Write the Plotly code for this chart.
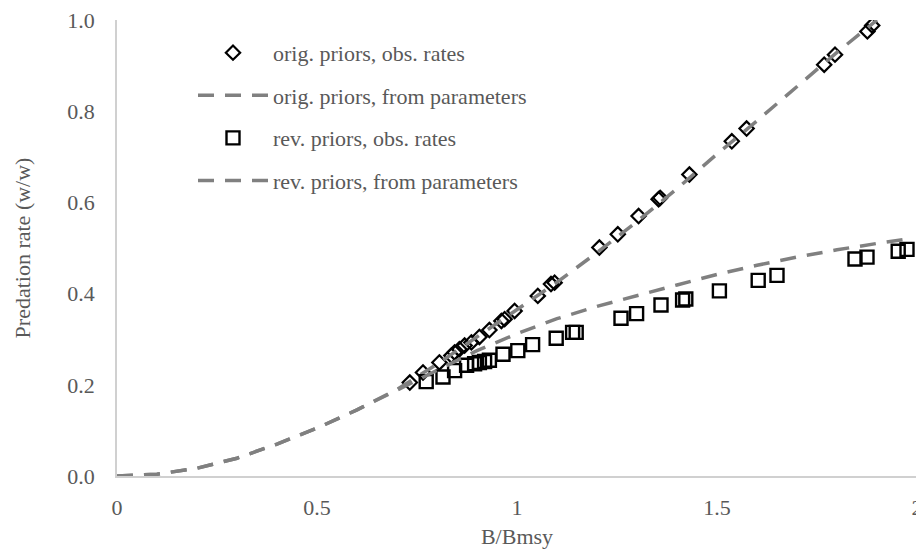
import plotly.graph_objects as go

# Observed rates, original priors
orig_obs_x = [0.732, 0.765, 0.806, 0.836, 0.844, 0.856, 0.869, 0.886, 0.906, 0.931, 0.961, 0.969, 0.994,
              1.052, 1.085, 1.094, 1.206, 1.252, 1.304, 1.354, 1.358, 1.431, 1.537, 1.574, 1.768, 1.795,
              1.876, 1.888]
orig_obs_y = [0.205, 0.227, 0.249, 0.264, 0.271, 0.278, 0.286, 0.293, 0.305, 0.320, 0.340, 0.344, 0.362,
              0.395, 0.421, 0.424, 0.501, 0.530, 0.570, 0.607, 0.610, 0.661, 0.734, 0.762, 0.902, 0.924,
              0.975, 0.988]

# Observed rates, revised priors
rev_obs_x = [0.773, 0.815, 0.844, 0.874, 0.894, 0.906, 0.919, 0.931, 0.965, 1.002, 1.039, 1.098, 1.139,
             1.148, 1.260, 1.299, 1.360, 1.414, 1.422, 1.506, 1.603, 1.650, 1.845, 1.875, 1.953, 1.975]
rev_obs_y = [0.207, 0.217, 0.231, 0.243, 0.246, 0.249, 0.251, 0.254, 0.267, 0.275, 0.288, 0.302, 0.315,
             0.315, 0.346, 0.356, 0.375, 0.386, 0.388, 0.406, 0.429, 0.440, 0.476, 0.480, 0.493, 0.497]

# Curves from parameters
orig_fit_x = [0, 0.1, 0.2, 0.3, 0.4, 0.5, 0.6, 0.7, 0.8, 0.9, 1.0, 1.1, 1.2, 1.3, 1.4, 1.5, 1.6, 1.7, 1.8, 1.9]
orig_fit_y = [0, 0.004, 0.017, 0.039, 0.070, 0.105, 0.145, 0.190, 0.245, 0.305, 0.363, 0.425, 0.490,
              0.558, 0.630, 0.706, 0.779, 0.853, 0.929, 1.000]
rev_fit_x = [0, 0.1, 0.2, 0.3, 0.4, 0.5, 0.6, 0.7, 0.8, 0.9, 1.0, 1.1, 1.2, 1.3, 1.4, 1.5, 1.6, 1.7, 1.8, 1.9, 1.97]
rev_fit_y = [0, 0.004, 0.017, 0.039, 0.070, 0.105, 0.145, 0.188, 0.232, 0.275, 0.312, 0.345, 0.372,
             0.396, 0.419, 0.442, 0.462, 0.480, 0.496, 0.510, 0.519]

names = ["orig. priors, obs. rates", "orig. priors, from parameters",
         "rev. priors, obs. rates", "rev. priors, from parameters"]

x_ticks = [0, 0.5, 1, 1.5, 2]
x_ticktext = ["0", "0.5", "1", "1.5", "2"]
y_ticks = [0, 0.2, 0.4, 0.6, 0.8, 1.0]
y_ticktext = ["0.0", "0.2", "0.4", "0.6", "0.8", "1.0"]

FONT = "Liberation Serif, Times New Roman, serif"
TXT = "#595959"
LINE_GRAY = "#808080"

fig = go.Figure()
fig.add_trace(go.Scatter(x=orig_obs_x, y=orig_obs_y, mode="markers", name=names[0], legendgroup="a",
                         marker=dict(symbol="diamond-open", size=11, color="black", line=dict(width=2.2, color="black"))))
fig.add_trace(go.Scatter(x=orig_fit_x, y=orig_fit_y, mode="lines", name=names[1], legendgroup="b",
                         line=dict(color=LINE_GRAY, width=3.5, dash="16px,11px")))
fig.add_trace(go.Scatter(x=rev_obs_x, y=rev_obs_y, mode="markers", name=names[2], legendgroup="c",
                         marker=dict(symbol="square-open", size=13, color="black", line=dict(width=2.4, color="black"))))
fig.add_trace(go.Scatter(x=rev_fit_x, y=rev_fit_y, mode="lines", name=names[3], legendgroup="d",
                         line=dict(color=LINE_GRAY, width=3.5, dash="16px,11px")))

fig.update_layout(
    width=916, height=541,
    margin=dict(l=109, r=7, t=12, b=73, autoexpand=False),
    paper_bgcolor="white", plot_bgcolor="white",
    font=dict(family=FONT, size=22, color=TXT),
    showlegend=True,
    legend=dict(x=0.095, y=0.974, xanchor="left", yanchor="top", bgcolor="rgba(0,0,0,0)",
                font=dict(family=FONT, size=22, color=TXT), itemwidth=70, tracegroupgap=11),
    xaxis=dict(range=[0, 2], tickvals=x_ticks, ticktext=x_ticktext, showgrid=False, zeroline=False,
               showline=True, linecolor="#d0d0d0", linewidth=1.5, ticks="", ticklabelstandoff=11,
               ticklabeloverflow="allow", automargin=False,
               title=dict(text="B/Bmsy", standoff=11, font=dict(size=22)), tickfont=dict(size=22)),
    yaxis=dict(range=[0, 1], tickvals=y_ticks, ticktext=y_ticktext, showgrid=False, zeroline=False,
               showline=True, linecolor="#d0d0d0", linewidth=1.5, ticks="", ticklabelstandoff=16,
               ticklabeloverflow="allow", automargin=False,
               title=dict(text="Predation rate (w/w)", standoff=31, font=dict(size=22)), tickfont=dict(size=22)),
)

fig.write_html("out.html")
